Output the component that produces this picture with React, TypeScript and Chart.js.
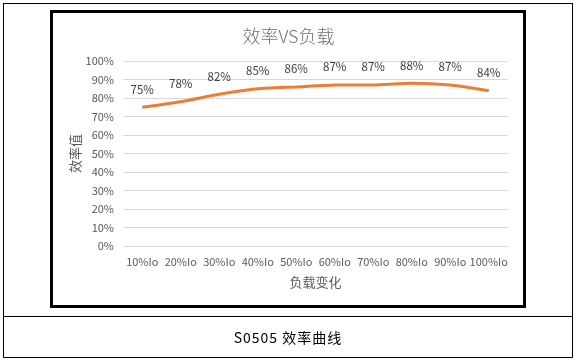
import React, { useEffect, useRef } from "react";
import { Chart, registerables } from "chart.js";

Chart.register(...registerables);

const categories = ["10%Io", "20%Io", "30%Io", "40%Io", "50%Io", "60%Io", "70%Io", "80%Io", "90%Io", "100%Io"];
const efficiency = [75, 78, 82, 85, 86, 87, 87, 88, 87, 84];
const chartTitle = "效率VS负载";
const yTitle = "效率值";
const xTitle = "负载变化";
const caption = "S0505 效率曲线";

const FONT = "'Noto Sans CJK SC', 'Microsoft YaHei', sans-serif";

const dataLabelPlugin = {
  id: "dataLabels",
  afterDatasetsDraw(chart: any) {
    const ctx = chart.ctx;
    const meta = chart.getDatasetMeta(0);
    ctx.save();
    ctx.font = `11.5px ${FONT}`;
    ctx.fillStyle = "#404040";
    ctx.textAlign = "center";
    ctx.textBaseline = "middle";
    meta.data.forEach((pt: any, i: number) => {
      ctx.fillText(efficiency[i] + "%", pt.x, pt.y - 18);
    });
    ctx.restore();
  },
};

export default function App() {
  const ref = useRef<HTMLCanvasElement>(null);
  useEffect(() => {
    if (!ref.current) return;
    const chart = new Chart(ref.current, {
      type: "line",
      data: {
        labels: categories,
        datasets: [
          {
            data: efficiency,
            borderColor: "#ED7D31",
            borderWidth: 3,
            pointRadius: 0,
            tension: 0.2,
            fill: false,
          },
        ],
      },
      options: {
        animation: false,
        responsive: false,
        maintainAspectRatio: false,
        layout: { padding: { left: 53, right: 69, top: 61, bottom: 67 } },
        plugins: {
          legend: { display: false },
          tooltip: { enabled: false },
          title: { display: false },
        },
        scales: {
          x: {
            offset: true,
            grid: { display: false, drawTicks: false },
            border: { display: false },
            ticks: {
              color: "#595959",
              font: { family: FONT, size: 11 },
              padding: 9,
              maxRotation: 0,
              autoSkip: false,
            },
            title: {
              display: true,
              text: xTitle,
              color: "#595959",
              font: { family: FONT, size: 13 },
              padding: { top: 0, bottom: 6 },
            },
            afterFit(scale: any) {
              scale.height = 50;
            },
          },
          y: {
            min: 0,
            max: 100,
            grid: { color: "#D9D9D9", lineWidth: 1, drawTicks: false },
            border: { display: false },
            ticks: {
              stepSize: 10,
              color: "#595959",
              font: { family: FONT, size: 11 },
              padding: 9,
              callback: (v: any) => v + "%",
            },
            title: {
              display: true,
              text: yTitle,
              color: "#595959",
              font: { family: FONT, size: 13 },
              padding: { top: 14, bottom: 0 },
            },
            afterFit(scale: any) {
              scale.width = 70;
            },
          },
        },
      },
      plugins: [dataLabelPlugin],
    });
    return () => chart.destroy();
  }, []);

  return (
    <div style={{ position: "fixed", left: 0, top: 0, width: 577, height: 363, background: "#fff" }}>
      <canvas ref={ref} width={577} height={363} style={{ position: "absolute", left: 0, top: 0 }} />
      <div
        style={{
          position: "absolute",
          left: 0,
          top: 22,
          width: 577,
          height: 26,
          display: "flex",
          alignItems: "center",
          justifyContent: "center",
          fontFamily: FONT,
          fontSize: 18,
          fontWeight: 300,
          color: "#707070",
        }}
      >
        {chartTitle}
      </div>
      <div
        style={{
          position: "absolute",
          left: 3,
          top: 3,
          width: 570,
          height: 355,
          border: "1px solid #000",
          boxSizing: "border-box",
        }}
      />
      <div style={{ position: "absolute", left: 3, top: 316, width: 570, height: 1, background: "#000" }} />
      <div
        style={{
          position: "absolute",
          left: 50,
          top: 10,
          width: 476,
          height: 298,
          border: "3px solid #000",
          boxSizing: "border-box",
        }}
      />
      <div
        style={{
          position: "absolute",
          left: 3,
          top: 317,
          width: 570,
          height: 40,
          display: "flex",
          alignItems: "center",
          justifyContent: "center",
          fontFamily: FONT,
          fontSize: 14,
          letterSpacing: 1,
          color: "#000",
        }}
      >
        {caption}
      </div>
    </div>
  );
}
